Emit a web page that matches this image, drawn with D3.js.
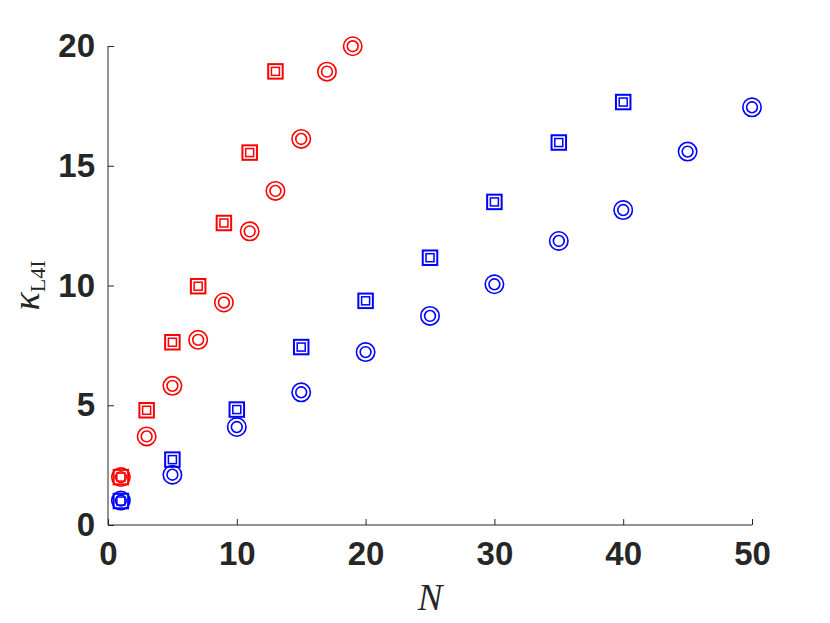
<!DOCTYPE html>
<html lang="en">
<head>
    <meta charset="UTF-8">
    <title>kappa vs N</title>
    <script src="https://cdn.jsdelivr.net/npm/d3@7"></script>
    <style>
        body { margin: 0; background: #fff; }
    </style>
</head>
<body>
    <div id="chart"></div>

    <script>
        // red series (odd N)
        const redCircleN = [1, 3, 5, 7, 9, 11, 13, 15, 17, 19];
        const redCircleK = [2.0, 3.70, 5.81, 7.73, 9.29, 12.26, 13.95, 16.12, 18.93, 19.99];
        const redSquareN = [1, 3, 5, 7, 9, 11, 13];
        const redSquareK = [2.0, 4.79, 7.63, 9.97, 12.61, 15.55, 18.94];

        // blue series
        const blueCircleN = [1, 5, 10, 15, 20, 25, 30, 35, 40, 45, 50];
        const blueCircleK = [1.02, 2.10, 4.09, 5.54, 7.22, 8.73, 10.05, 11.86, 13.15, 15.59, 17.44];
        const blueSquareN = [1, 5, 10, 15, 20, 25, 30, 35, 40];
        const blueSquareK = [1.0, 2.73, 4.82, 7.43, 9.36, 11.16, 13.49, 15.97, 17.66];

        const xTicks = [0, 10, 20, 30, 40, 50];
        const yTicks = [0, 5, 10, 15, 20];

        const width = 830;
        const height = 623;
        const marginLeft = 108;
        const marginRight = 78;
        const marginTop = 46;
        const marginBottom = 98;
        const axisColor = "#262626";

        const x = d3.scaleLinear()
            .domain([0, 50])
            .range([marginLeft, width - marginRight]);

        const y = d3.scaleLinear()
            .domain([0, 20])
            .range([height - marginBottom, marginTop]);

        const svg = d3.select("#chart").append("svg")
            .attr("width", width)
            .attr("height", height);

        // x axis, ticks pointing inward
        svg.append("g")
            .attr("transform", `translate(0,${height - marginBottom})`)
            .call(d3.axisBottom(x).tickValues(xTicks).tickSize(-6).tickPadding(17))
            .call(g => g.select(".domain").attr("stroke", axisColor).attr("d", `M${x(0)},0H${x(50)}`))
            .call(g => g.selectAll(".tick line").attr("stroke", axisColor))
            .call(g => g.selectAll(".tick text")
                .attr("fill", axisColor)
                .attr("font-family", "'Liberation Sans', Arial, sans-serif")
                .attr("font-weight", "bold")
                .attr("font-size", 33));

        // y axis
        svg.append("g")
            .attr("transform", `translate(${marginLeft},0)`)
            .call(d3.axisLeft(y).tickValues(yTicks).tickSize(-6).tickPadding(13))
            .call(g => g.select(".domain").attr("stroke", axisColor).attr("d", `M0,${y(0)}V${y(20)}`))
            .call(g => g.selectAll(".tick line").attr("stroke", axisColor))
            .call(g => g.selectAll(".tick text")
                .attr("fill", axisColor)
                .attr("font-family", "'Liberation Sans', Arial, sans-serif")
                .attr("font-weight", "bold")
                .attr("font-size", 33));

        // axis labels
        svg.append("text")
            .attr("x", (x(0) + x(50)) / 2)
            .attr("y", 610)
            .attr("text-anchor", "middle")
            .attr("font-family", "'Liberation Serif', 'Times New Roman', serif")
            .attr("font-style", "italic")
            .attr("font-size", 37)
            .attr("fill", axisColor)
            .text("N");

        const ylab = svg.append("text")
            .attr("transform", `translate(39,${(y(0) + y(20)) / 2}) rotate(-90)`)
            .attr("text-anchor", "middle")
            .attr("font-family", "'Liberation Serif', 'Times New Roman', serif")
            .attr("fill", axisColor);
        ylab.append("tspan")
            .attr("font-style", "italic")
            .attr("font-size", 38)
            .text("κ");
        ylab.append("tspan")
            .attr("font-size", 22)
            .attr("dy", 6)
            .text("L4I");

        function toPoints(ns, ks) {
            return ns.map((n, i) => ({n: n, k: ks[i]}));
        }

        function drawCircles(data, color) {
            const g = svg.append("g")
                .attr("fill", "none")
                .attr("stroke", color)
                .attr("stroke-width", 1.6);
            g.selectAll("circle.outer")
                .data(data)
                .join("circle")
                .attr("class", "outer")
                .attr("cx", d => x(d.n))
                .attr("cy", d => y(d.k))
                .attr("r", 9.2);
            g.selectAll("circle.inner")
                .data(data)
                .join("circle")
                .attr("class", "inner")
                .attr("cx", d => x(d.n))
                .attr("cy", d => y(d.k))
                .attr("r", 5.4);
        }

        function drawSquares(data, color) {
            const g = svg.append("g")
                .attr("fill", "none")
                .attr("stroke", color);
            const outer = 14.5;
            const inner = 8;
            g.selectAll("rect.outer")
                .data(data)
                .join("rect")
                .attr("class", "outer")
                .attr("stroke-width", 2)
                .attr("x", d => x(d.n) - outer / 2)
                .attr("y", d => y(d.k) - outer / 2)
                .attr("width", outer)
                .attr("height", outer);
            g.selectAll("rect.inner")
                .data(data)
                .join("rect")
                .attr("class", "inner")
                .attr("stroke-width", 1.5)
                .attr("x", d => x(d.n) - inner / 2)
                .attr("y", d => y(d.k) - inner / 2)
                .attr("width", inner)
                .attr("height", inner);
        }

        drawCircles(toPoints(redCircleN, redCircleK), "#ff0000");
        drawSquares(toPoints(redSquareN, redSquareK), "#ff0000");
        drawCircles(toPoints(blueCircleN, blueCircleK), "#0000ff");
        drawSquares(toPoints(blueSquareN, blueSquareK), "#0000ff");
    </script>
</body>
</html>
